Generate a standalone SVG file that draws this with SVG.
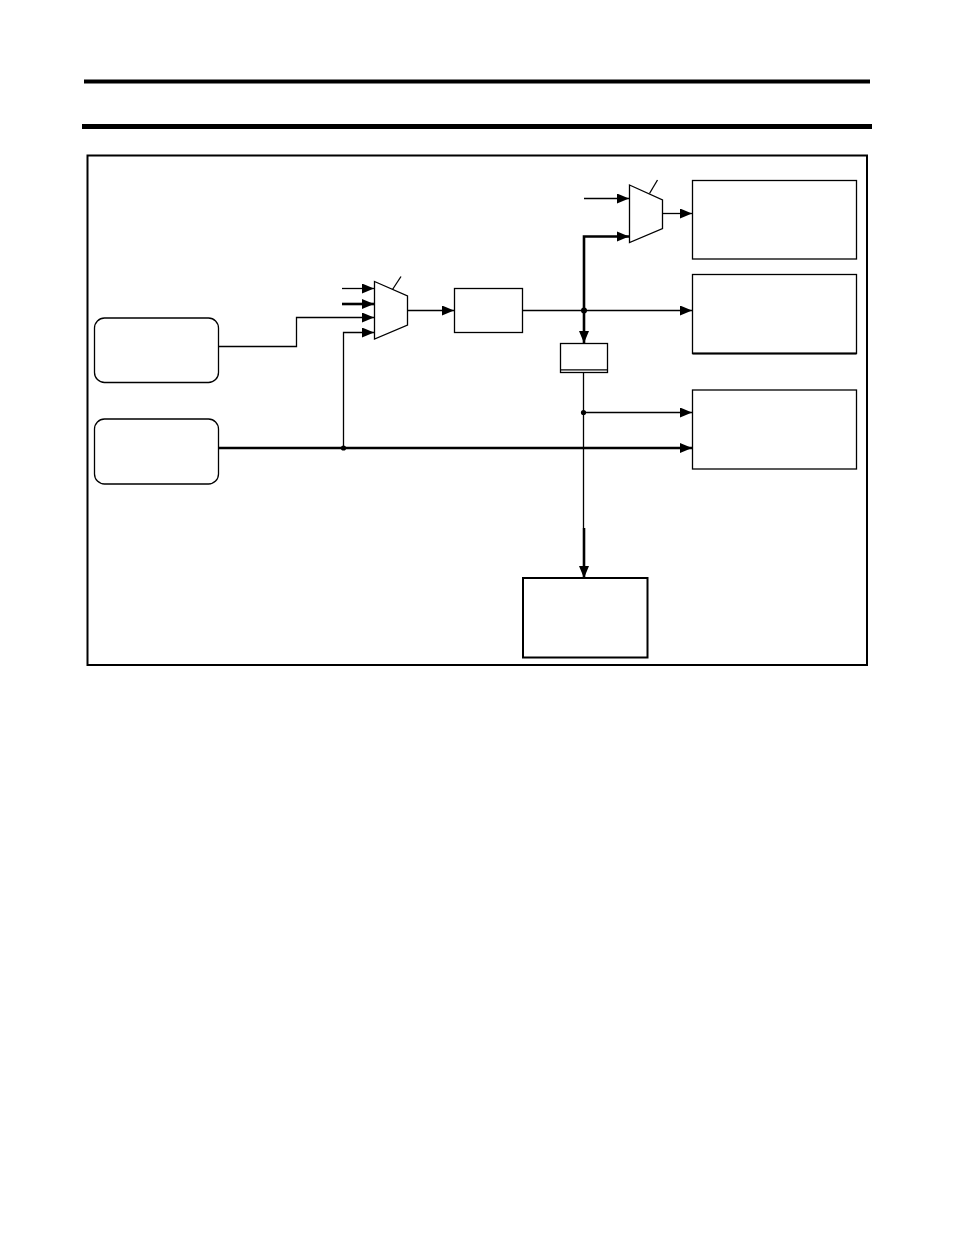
<svg xmlns="http://www.w3.org/2000/svg" width="954" height="1235" viewBox="0 0 954 1235">
<style>
.box{fill:#fff;stroke:#000;stroke-width:1.3}
.mux{fill:#fff;stroke:#000;stroke-width:1.3;stroke-linejoin:miter}
.w{fill:none;stroke:#000;stroke-width:1.3}
.t{fill:none;stroke:#000;stroke-width:2.6}
.dot{fill:#000}
</style>
<defs>
<marker id="ah" markerUnits="userSpaceOnUse" markerWidth="12" markerHeight="10" refX="12" refY="5" orient="auto">
<path d="M0,0 L12,5 L0,10 Z" fill="#000"/>
</marker>
</defs>
<rect width="954" height="1235" fill="#fff"/>
<line x1="84" y1="81.5" x2="870" y2="81.5" stroke="#000" stroke-width="4"/>
<line x1="82" y1="126.5" x2="872" y2="126.5" stroke="#000" stroke-width="5"/>
<rect id="frame" x="87.5" y="155.5" width="779.5" height="509.5" fill="none" stroke="#000" stroke-width="2"/>

<g id="connectors">
<line class="w" x1="342" y1="288.5" x2="374" y2="288.5" marker-end="url(#ah)"/>
<line class="t" x1="342" y1="304" x2="374" y2="304" marker-end="url(#ah)"/>
<polyline class="w" points="218.5,346.5 296.5,346.5 296.5,317.5 374,317.5" marker-end="url(#ah)"/>
<polyline class="w" points="343.5,448 343.5,332.5 374,332.5" marker-end="url(#ah)"/>
<line class="w" x1="392.5" y1="289.5" x2="401" y2="276.5"/>
<line class="w" x1="407.5" y1="310.5" x2="454" y2="310.5" marker-end="url(#ah)"/>
<line class="w" x1="522.5" y1="310.5" x2="692" y2="310.5" marker-end="url(#ah)"/>
<polyline class="t" points="629,236.5 584,236.5 584,343" />
<path d="M617,231.5 L629,236.5 L617,241.5 Z" fill="#000"/>
<path d="M579,331 L584,343 L589,331 Z" fill="#000"/>
<line class="w" x1="584" y1="198.5" x2="629" y2="198.5" marker-end="url(#ah)"/>
<line class="w" x1="649.5" y1="193.5" x2="657.5" y2="180"/>
<line class="w" x1="662.5" y1="213.5" x2="692" y2="213.5" marker-end="url(#ah)"/>
<line class="w" x1="583.5" y1="372.5" x2="583.5" y2="528"/>
<line class="t" x1="584" y1="528" x2="584" y2="577"/>
<path d="M579,566 L584,578 L589,566 Z" fill="#000"/>
<line class="w" x1="583.5" y1="412.5" x2="692" y2="412.5" marker-end="url(#ah)"/>
<line class="t" x1="218.5" y1="448" x2="692" y2="448" />
<path d="M680,443 L692,448 L680,453 Z" fill="#000"/>
<circle class="dot" cx="584" cy="310.5" r="3"/>
<circle class="dot" cx="343.5" cy="448" r="2.6"/>
<circle class="dot" cx="583.5" cy="412.5" r="2.6"/>
</g>

<g id="mux1"><polygon class="mux" points="374.5,281.5 407.5,296 407.5,325 374.5,339"/></g>
<g id="mux2"><polygon class="mux" points="629.5,185 662.5,200 662.5,228.5 629.5,242.5"/></g>
<g id="block2"><rect class="box" x="454.5" y="288.5" width="68" height="44"/></g>
<g id="smallbox"><rect class="box" x="560.5" y="343.5" width="47" height="29"/><line class="w" x1="560.5" y1="369.8" x2="607.5" y2="369.8"/></g>
<g id="src1"><rect class="box" x="94.5" y="318" width="124" height="64.5" rx="10"/></g>
<g id="src2"><rect class="box" x="94.5" y="419" width="124" height="65" rx="10"/></g>
<g id="boxA"><rect class="box" x="692.5" y="180.5" width="164" height="78.5"/></g>
<g id="boxB"><rect class="box" x="692.5" y="274.5" width="164" height="79"/><line x1="692.5" y1="353.5" x2="856.5" y2="353.5" stroke="#000" stroke-width="2"/></g>
<g id="boxC"><rect class="box" x="692.5" y="390" width="164" height="79"/></g>
<g id="boxD"><rect x="523" y="578" width="124.5" height="79.5" fill="#fff" stroke="#000" stroke-width="2"/></g>
</svg>
